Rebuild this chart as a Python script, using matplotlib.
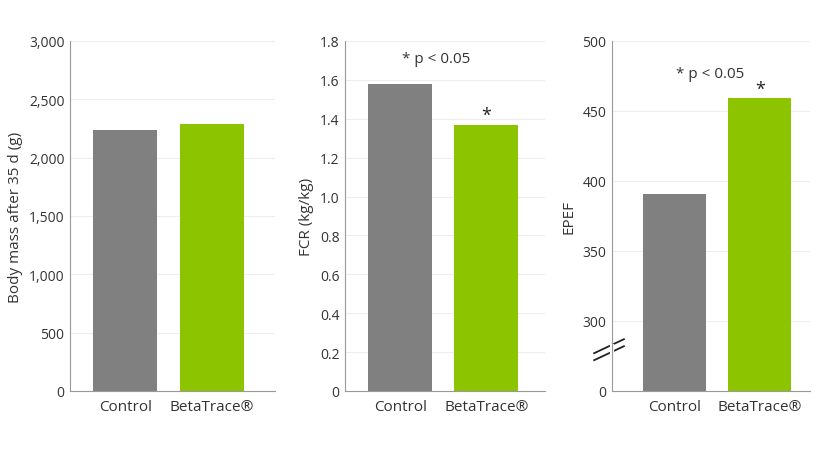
import matplotlib
matplotlib.use("Agg")
import matplotlib.pyplot as plt
from matplotlib.ticker import FuncFormatter

plt.rcParams['font.family'] = ['Open Sans', 'DejaVu Sans']

groups = ["Control", "BetaTrace®"]
body_mass = [2240, 2285]
fcr = [1.58, 1.37]
epef = [391, 459]
colors = ["#808080", "#8cc400"]
grey_txt = "#333333"

fig = plt.figure(figsize=(8.28, 4.6), dpi=100)
W = 828; H = 460
def ax_at(l, r):
    return fig.add_axes([l/W, (H-392)/H, (r-l)/W, 350/H])

def style(ax):
    for s in ["top", "right"]:
        ax.spines[s].set_visible(False)
    for s in ["left", "bottom"]:
        ax.spines[s].set_color("#999999")
    ax.tick_params(axis='y', length=0, labelsize=10, colors=grey_txt, pad=4)
    ax.tick_params(axis='x', length=0, labelsize=11, colors=grey_txt, pad=6)
    ax.yaxis.grid(True, color="#eeeeee", lw=0.8)
    ax.set_axisbelow(True)

x = [0, 1]
# panel 1
ax1 = ax_at(70, 275)
ax1.bar(x, body_mass, width=0.74, color=colors)
ax1.set_xlim(-0.64, 1.73); ax1.set_ylim(0, 3000)
ax1.set_yticks(range(0, 3001, 500))
ax1.yaxis.set_major_formatter(FuncFormatter(lambda v, p: f"{int(v):,}"))
ax1.set_xticks(x, groups)
ax1.set_ylabel("Body mass after 35 d (g)", fontsize=11, color=grey_txt)
style(ax1)

# panel 2
ax2 = ax_at(345, 545)
ax2.bar(x, fcr, width=0.74, color=colors)
ax2.set_xlim(-0.64, 1.68); ax2.set_ylim(0, 1.8)
ax2.set_yticks([i/10 for i in range(0, 19, 2)])
ax2.yaxis.set_major_formatter(FuncFormatter(lambda v, p: f"{v:.1f}".rstrip('0').rstrip('.') if v == 0 else f"{v:.1f}"))
ax2.set_xticks(x, groups)
ax2.set_ylabel("FCR (kg/kg)", fontsize=11, color=grey_txt)
ax2.text(0.42, 1.71, "* p < 0.05", ha="center", va="center", fontsize=11, color=grey_txt)
ax2.text(1, fcr[1] + 0.05, "*", ha="center", va="center", fontsize=13, color="#222222")
style(ax2)

# panel 3 (broken axis: 0 drawn at 250)
ax3 = ax_at(612, 810)
base = 250
ax3.bar(x, [v - base for v in epef], bottom=base, width=0.74, color=colors)
ax3.set_xlim(-0.74, 1.59); ax3.set_ylim(base, 500)
ax3.set_yticks([250, 300, 350, 400, 450, 500], ["0", "300", "350", "400", "450", "500"])
ax3.set_xticks(x, groups)
ax3.set_ylabel("EPEF", fontsize=11, color=grey_txt)
ax3.text(0.42, 477, "* p < 0.05", ha="center", va="center", fontsize=11, color=grey_txt)
ax3.text(1, epef[1] + 7, "*", ha="center", va="center", fontsize=13, color="#222222")
style(ax3)
for dy in (0, 5):
    ax3.plot([-0.95, -0.6], [272 + dy, 282 + dy], color="#222222", lw=1.3,
             clip_on=False, transform=ax3.transData)
ax3.plot([-0.74, -0.74], [274, 282], color="white", lw=3, clip_on=False)

fig.savefig("out.png", dpi=100)
